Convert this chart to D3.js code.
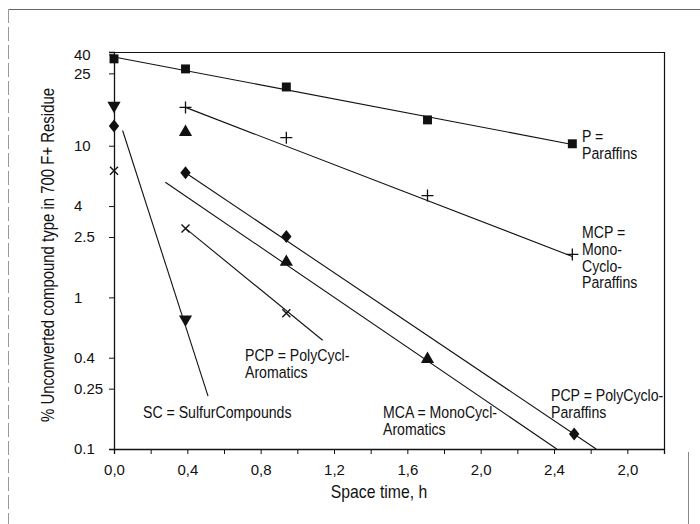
<!DOCTYPE html>
<html><head><meta charset="utf-8">
<script src="https://cdn.jsdelivr.net/npm/d3@7"></script>
<style>
body{margin:0;background:#fff}
svg{display:block}
</style>
</head><body>
<svg id="c" width="700" height="524"></svg>
<script>
// ---- tick definitions ----
const xMajorTicks = [0, 0.4, 0.8, 1.2, 1.6, 2.0, 2.4, 2.8];
const xMajorLabels = ["0,0", "0,4", "0,8", "1,2", "1,6", "2,0", "2,4", "2,0"];
const xMinorTicks = [0.2, 0.6, 1.0, 1.4, 1.8, 2.2, 2.6, 3.0];
const yTickValues = [40, 30, 10, 4, 2.5, 1, 0.4, 0.25, 0.1];
const yTickLabels = ["40", "25", "10", "4", "2.5", "1", "0.4", "0.25", "0.1"];

// ---- measured points (space time h, % unconverted) ----
const pTimes   = [0, 0.39, 0.94, 1.71, 2.5];
const pValues  = [37.4, 32.1, 24.4, 14.8, 10.3];
const mcpTimes  = [0.39, 0.94, 1.71, 2.5];
const mcpValues = [17.9, 11.3, 4.69, 1.92];
const scTimes   = [0, 0.39];
const scValues  = [18.4, 0.717];
const mcaTimes  = [0.39, 0.94, 1.71];
const mcaValues = [12.3, 1.71, 0.391];
const pcpParTimes  = [0, 0.39, 0.94, 2.51];
const pcpParValues = [13.5, 6.64, 2.52, 0.1255];
const pcaTimes  = [0, 0.39, 0.94];
const pcaValues = [6.85, 2.85, 0.785];

// ---- fitted lines (start / end) ----
const fitPTimes = [0, 2.5],        fitPValues = [38.5, 10.2];
const fitMcpTimes = [0.39, 2.5],   fitMcpValues = [17.9, 1.86];
const fitScTimes = [0.047, 0.513], fitScValues = [12.6, 0.223];
const fitMcaTimes = [0.28, 2.415], fitMcaValues = [5.74, 0.1];
const fitPcpParTimes = [0.39, 2.63], fitPcpParValues = [6.64, 0.1];
const fitPcaTimes = [0.39, 1.138], fitPcaValues = [2.85, 0.521];

const FONT = '"Liberation Sans", Arimo, Arial, Helvetica, sans-serif';
const NARROW = 0.83;   // horizontal squeeze imitating a condensed face

const svg = d3.select("#c");
const L = 114, R = 664, T = 52, B = 449;
const x = d3.scaleLinear().domain([0, 3]).range([L, R]);
const y = d3.scaleLog().domain([0.1, 41.5]).range([B, T]);

const ink = "#111";

// page border artefacts
svg.append("line").attr("x1", 8).attr("x2", 700).attr("y1", 9.5).attr("y2", 9.5)
  .attr("stroke", "#666").attr("stroke-width", 1.2);
svg.append("line").attr("x1", 8.5).attr("x2", 8.5).attr("y1", 9).attr("y2", 524)
  .attr("stroke", "#999").attr("stroke-width", 1).attr("stroke-dasharray", "14,4");
svg.append("line").attr("x1", 688.5).attr("x2", 688.5).attr("y1", 452).attr("y2", 524)
  .attr("stroke", "#888").attr("stroke-width", 1);

// frame top/right
svg.append("path")
  .attr("d", `M${L},${T + 0.5}H${R + 0.5}V${B}`)
  .attr("fill", "none").attr("stroke", ink).attr("stroke-width", 1.2);

// x axis
const gx = svg.append("g").attr("transform", `translate(0,${B})`);
gx.call(d3.axisBottom(x).tickValues(xMajorTicks).tickFormat((d, i) => xMajorLabels[i]).tickSize(5).tickPadding(10));
const gxm = svg.append("g").attr("transform", `translate(0,${B})`);
gxm.call(d3.axisBottom(x).tickValues(xMinorTicks).tickFormat("").tickSize(5));
gxm.select(".domain").remove();
[gx, gxm].forEach(g => {
  g.select(".domain").attr("stroke", ink).attr("stroke-width", 1.3);
  g.selectAll(".tick line").attr("stroke", ink);
});
gx.selectAll("text").style("font-family", FONT).style("font-size", "15px").attr("fill", ink);

// y axis
const gy = svg.append("g").attr("transform", `translate(${L},0)`);
gy.call(d3.axisLeft(y).tickValues(yTickValues).tickFormat((d, i) => yTickLabels[i]).tickSize(5));
gy.select(".domain").attr("stroke", ink).attr("stroke-width", 1.3);
gy.selectAll(".tick line").attr("stroke", ink);
gy.selectAll("text").style("font-family", FONT).style("font-size", "15px").attr("fill", ink)
  .attr("text-anchor", "start").attr("x", -40);

// helper for squeezed text
function squeezed(px, py, size, lines, lh, anchor, rot) {
  const g = svg.append("g")
    .attr("transform", `translate(${px},${py})${rot ? " rotate(" + rot + ")" : ""} scale(${NARROW},1)`);
  const t = g.append("text").style("font-family", FONT).style("font-size", size + "px")
    .attr("fill", ink).attr("text-anchor", anchor || "start");
  lines.forEach((s, i) => t.append("tspan").attr("x", 0).attr("y", i * lh).text(s));
  return g;
}

// axis titles
squeezed((L + R) / 2 - 10, 498, 19, ["Space time, h"], 0, "middle");
squeezed(54, 255, 18, ["% Unconverted compound type in 700 F+ Residue"], 0, "middle", -90);

// fitted lines
const lineGen = d3.line().x(d => x(d[0])).y(d => y(d[1]));
const fits = [
  [fitPTimes, fitPValues], [fitMcpTimes, fitMcpValues], [fitScTimes, fitScValues],
  [fitMcaTimes, fitMcaValues], [fitPcpParTimes, fitPcpParValues], [fitPcaTimes, fitPcaValues]
];
fits.forEach(([ts, vs]) => {
  svg.append("path").datum(ts.map((t, i) => [t, vs[i]]))
    .attr("d", lineGen).attr("fill", "none").attr("stroke", ink).attr("stroke-width", 1.1);
});

// markers
function pts(ts, vs) { return ts.map((t, i) => [t, vs[i]]); }
const sym = (type, size) => d3.symbol().type(type).size(size)();
function filled(data, path, rot) {
  svg.append("g").selectAll("path").data(data).join("path")
    .attr("d", path)
    .attr("transform", d => `translate(${x(d[0])},${y(d[1])})${rot ? " rotate(" + rot + ")" : ""}`)
    .attr("fill", ink);
}
filled(pts(pTimes, pValues), sym(d3.symbolSquare, 80));
filled(pts(scTimes, scValues), sym(d3.symbolTriangle, 75), 180);
filled(pts(mcaTimes, mcaValues), sym(d3.symbolTriangle, 75));
filled(pts(pcpParTimes, pcpParValues), "M0,-6.5L5.2,0L0,6.5L-5.2,0Z");
// plus
svg.append("g").selectAll("path").data(pts(mcpTimes, mcpValues)).join("path")
  .attr("d", "M-6,0H6M0,-6V6")
  .attr("transform", d => `translate(${x(d[0])},${y(d[1])})`)
  .attr("stroke", ink).attr("stroke-width", 1.3).attr("fill", "none");
// x marks
svg.append("g").selectAll("path").data(pts(pcaTimes, pcaValues)).join("path")
  .attr("d", "M-4,-4L4,4M4,-4L-4,4")
  .attr("transform", d => `translate(${x(d[0])},${y(d[1])})`)
  .attr("stroke", ink).attr("stroke-width", 1.4).attr("fill", "none");

// annotations
const notes = [
  {x: 582, y: 142, lines: ["P =", "Paraffins"]},
  {x: 582, y: 238, lines: ["MCP =", "Mono-", "Cyclo-", "Paraffins"]},
  {x: 245, y: 361, lines: ["PCP = PolyCycl-", "Aromatics"]},
  {x: 143, y: 418, lines: ["SC = SulfurCompounds"]},
  {x: 383, y: 418, lines: ["MCA = MonoCycl-", "Aromatics"]},
  {x: 551, y: 401, lines: ["PCP = PolyCyclo-", "Paraffins"]}
];
notes.forEach(n => squeezed(n.x, n.y, 17, n.lines, 16.8, "start"));
</script>
</body></html>
